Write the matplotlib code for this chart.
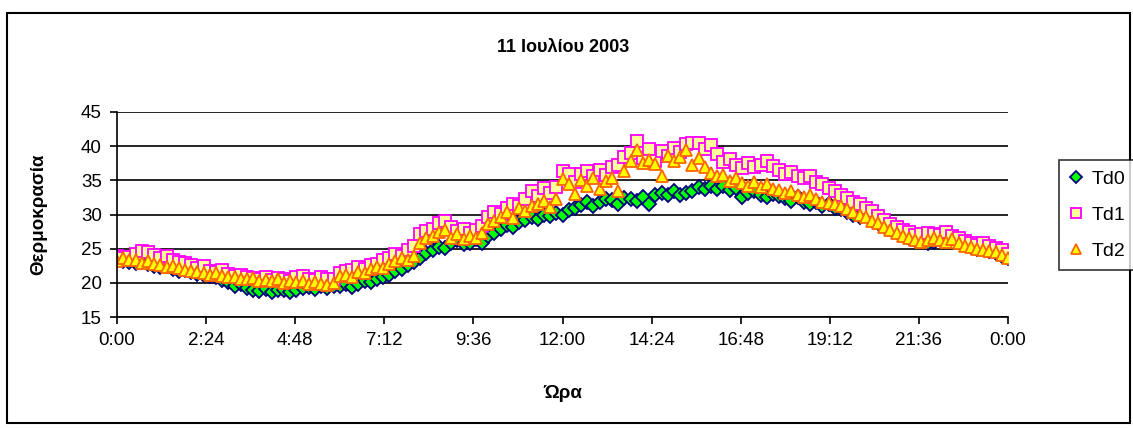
import numpy as np
import matplotlib
matplotlib.use('Agg')
import matplotlib.pyplot as plt
from matplotlib.patches import Rectangle
from matplotlib.ticker import FuncFormatter, MultipleLocator

plt.rcParams['font.family'] = ['Liberation Sans', 'DejaVu Sans']

# 10-minute readings, 0:00 .. 24:00
td0 = [23.4, 23.2, 23.0, 22.9, 23.1, 22.7, 22.5, 22.3, 22.4, 22.0, 21.8, 21.9,
       21.6, 21.3, 21.2, 21.0, 20.8, 20.4, 20.1, 19.6, 19.8, 19.2, 19.0, 18.8,
       19.1, 18.7, 19.0, 18.9, 18.6, 18.9, 19.2, 19.4, 19.1, 19.5, 19.3, 19.6,
       19.5, 19.8, 19.4, 19.9, 20.3, 20.1, 20.6, 20.9, 21.2, 21.7, 22.0, 22.6,
       23.0, 23.6, 24.3, 24.8, 25.3, 25.1, 25.9, 26.2, 25.7, 25.9, 26.4, 25.8,
       26.9, 27.3, 27.9, 28.4, 28.1, 28.9, 29.2, 29.6, 29.3, 30.0, 29.8, 30.2,
       30.0, 30.6, 31.0, 31.4, 31.8, 31.2, 31.9, 32.3, 32.1, 31.6, 32.4, 32.2,
       32.0, 32.6, 31.5, 32.8, 33.2, 32.9, 33.4, 32.8, 33.1, 33.5, 34.0, 33.7,
       34.2, 33.8, 34.1, 33.6, 33.9, 32.6, 33.2, 33.5, 32.9, 32.5, 33.0, 32.7,
       32.4, 32.0, 32.6, 31.9, 31.5, 31.8, 31.2, 31.5, 31.0, 30.8, 30.3, 30.0,
       29.6, 29.9, 29.2, 28.8, 28.3, 27.9, 27.4, 27.0, 26.6, 26.3, 26.1, 25.9,
       26.0, 26.4, 26.7, 26.5, 26.2, 25.8, 25.3, 25.0, 25.2, 24.7, 24.4, 24.0,
       23.6]

td1 = [23.9, 23.6, 23.8, 24.2, 24.6, 24.5, 24.1, 23.6, 23.9, 23.3, 23.0, 22.9,
       22.6, 22.2, 22.4, 21.8, 21.6, 21.9, 21.3, 21.0, 21.2, 20.8, 20.7, 20.5,
       20.8, 20.4, 20.7, 20.6, 20.3, 20.9, 21.0, 20.6, 20.4, 20.8, 20.5, 20.6,
       21.4, 21.7, 21.9, 22.3, 22.0, 22.6, 22.8, 23.4, 23.7, 24.2, 24.0, 24.8,
       25.4, 27.2, 27.6, 27.9, 28.7, 29.1, 28.2, 27.6, 27.9, 27.3, 27.8, 28.3,
       29.6, 30.4, 30.1, 31.0, 31.6, 31.3, 32.2, 33.4, 32.7, 33.9, 33.2, 34.0,
       36.4, 36.0, 34.8, 35.9, 36.3, 35.6, 36.5, 35.8, 36.9, 37.2, 38.4, 39.0,
       40.8, 38.3, 39.6, 37.9, 39.3, 38.6, 39.8, 39.2, 40.3, 40.4, 40.5, 39.6,
       40.2, 38.9, 37.7, 38.1, 37.3, 36.8, 37.6, 36.9, 37.2, 37.8, 37.1, 36.5,
       36.0, 36.2, 35.7, 35.4, 35.6, 34.8, 34.5, 33.9, 33.4, 32.9, 32.4, 31.9,
       31.6, 30.9, 30.5, 29.8, 29.2, 28.6, 28.1, 27.7, 27.4, 27.0, 27.1, 27.3,
       27.2, 27.0, 27.4, 26.8, 26.5, 26.1, 25.8, 25.6, 25.9, 25.4, 25.1, 24.8,
       24.2]

td2 = [23.2, 23.6, 23.4, 23.3, 22.9, 23.2, 22.7, 22.6, 22.3, 22.5, 22.1, 21.9,
       21.8, 21.6, 21.4, 21.2, 21.5, 21.0, 20.8, 20.9, 20.6, 20.5, 20.7, 20.3,
       20.4, 20.2, 20.5, 20.0, 20.3, 20.1, 20.2, 19.9, 20.1, 19.8, 19.7, 20.0,
       21.0, 21.2, 20.9, 21.6, 21.4, 22.0, 22.3, 22.1, 22.8, 23.2, 23.6, 23.4,
       23.9, 25.9, 26.5, 26.8, 27.4, 27.7, 26.6, 27.1, 26.4, 26.9, 26.5, 27.3,
       28.6, 29.0, 29.7, 30.3, 29.5, 31.0, 30.5, 31.2, 31.6, 32.0, 31.1, 32.2,
       35.2, 34.4, 33.0, 35.0, 34.2, 35.3, 33.8, 34.9, 35.4, 33.4, 36.3, 37.8,
       39.5, 37.6, 38.0, 37.4, 35.6, 38.6, 37.9, 38.4, 39.4, 37.2, 38.2, 37.0,
       36.1, 35.6, 35.8, 34.9, 35.3, 34.6, 34.2, 34.8, 34.0, 34.4, 33.8, 33.6,
       33.2, 33.5, 32.9, 32.6, 32.8, 32.2, 31.9, 31.7, 31.5, 31.2, 30.8, 30.4,
       30.0, 29.6, 29.1, 28.7, 28.2, 27.8, 27.3, 26.9, 26.5, 26.2, 26.0, 26.3,
       26.5, 26.2, 26.0, 26.4, 25.8, 25.4, 25.2, 25.0, 24.8, 24.6, 24.5, 24.1,
       23.6]

hours = np.arange(len(td0)) * 10 / 60.0

W, H = 1133, 428
fig = plt.figure(figsize=(W / 100, H / 100), dpi=100)

# outer chart frame
fig.patches.append(Rectangle((7 / W, 5 / H), 1123 / W, 410 / H, transform=fig.transFigure,
                             fill=False, edgecolor='black', linewidth=1.5))

ax = fig.add_axes([117 / W, 1 - 317 / H, 891 / W, 205 / H])

ax.plot(hours, td0, linestyle='none', marker='D', markersize=7,
        markerfacecolor='#00FF00', markeredgecolor='#000080', markeredgewidth=1.3, label='Td0')
ax.plot(hours, td1, linestyle='none', marker='s', markersize=8,
        markerfacecolor='#FFFF99', markeredgecolor='#FF00FF', markeredgewidth=1.3, label='Td1')
ax.plot(hours, td2, linestyle='none', marker='^', markersize=9,
        markerfacecolor='#FFFF00', markeredgecolor='#FF6600', markeredgewidth=1.3, label='Td2')

ax.set_xlim(0, 24)
ax.set_ylim(15, 45)
ax.xaxis.set_major_locator(MultipleLocator(2.4))
ax.xaxis.set_major_formatter(FuncFormatter(
    lambda v, p: f'{int(round(v * 60)) // 60 % 24}:{int(round(v * 60)) % 60:02d}'))
ax.yaxis.set_major_locator(MultipleLocator(5))
ax.grid(axis='y', color='black', linewidth=1.2)
ax.set_axisbelow(True)
for s in ['top', 'right']:
    ax.spines[s].set_visible(False)
for s in ['left', 'bottom']:
    ax.spines[s].set_linewidth(1.2)
ax.tick_params(axis='both', direction='out', length=5, width=1.2, labelsize=13.5, pad=6)

ax.set_xlabel('Ώρα', fontsize=13.5, fontweight='bold', labelpad=26)
ax.set_ylabel('Θερμοκρασία', fontsize=13.5, fontweight='bold', labelpad=24)
fig.text(563 / W, 1 - 47 / H, '11 Ιουλίου 2003', ha='center', va='center',
         fontsize=13, fontweight='bold')

leg = fig.legend(loc='center left', bbox_to_anchor=(1059 / W, 1 - 215 / H), fontsize=14,
                 frameon=True, fancybox=False, edgecolor='black', handlelength=0.7,
                 handletextpad=0.5, labelspacing=0.95, borderpad=0.5, borderaxespad=0,
                 markerscale=0.85)
leg.get_frame().set_linewidth(1.2)

fig.savefig('out.png', dpi=100)
